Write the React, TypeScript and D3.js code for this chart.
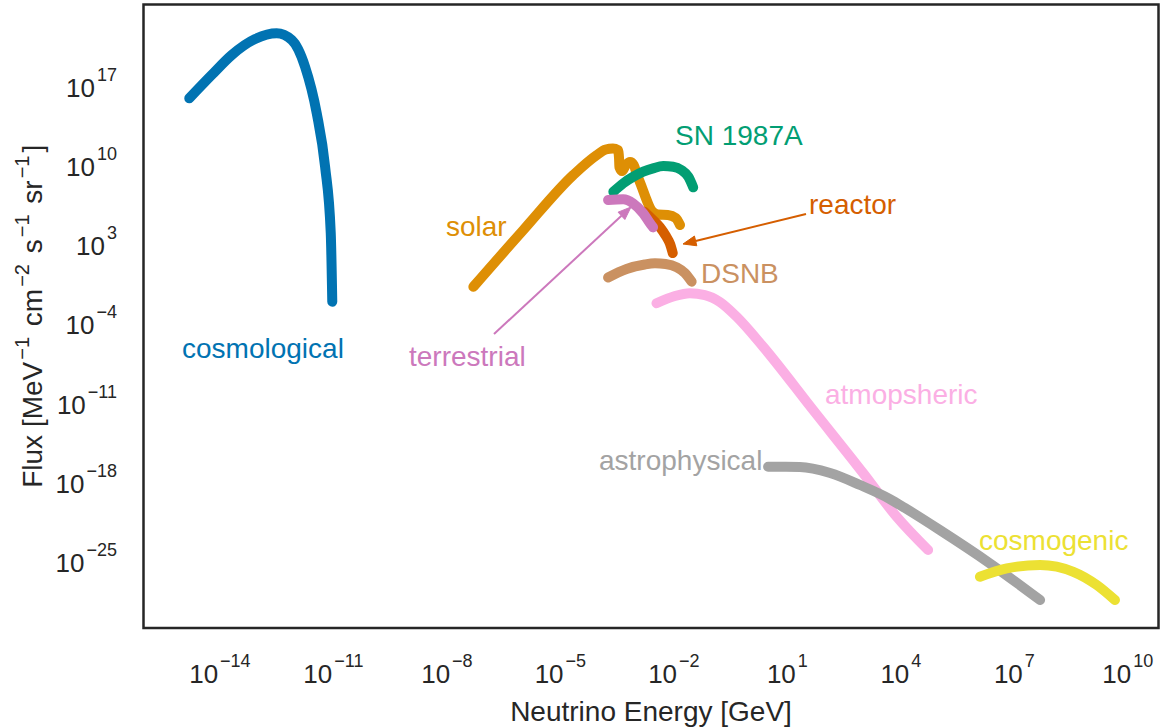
import React from "react";
import * as d3 from "d3";

// ---- canvas / plot frame ----
const W = 1161;
const H = 728;
const frame = { left: 143.5, top: 4.5, right: 1158.5, bottom: 628 };
const FONT = "'Liberation Sans', Arial, Helvetica, sans-serif";
const INK = "#262626";

// axis extents (GeV, MeV^-1 cm^-2 s^-1 sr^-1)
const xLimits = [9.55e-17, 6.46e10];
const yLimits = [1.7e-31, 2.19e24];

const xTickValues = [1e-14, 1e-11, 1e-8, 1e-5, 1e-2, 1e1, 1e4, 1e7, 1e10];
const xTickExponents = ["\u221214", "\u221211", "\u22128", "\u22125", "\u22122", "1", "4", "7", "10"];
const yTickValues = [1e17, 1e10, 1e3, 1e-4, 1e-11, 1e-18, 1e-25];
const yTickExponents = ["17", "10", "3", "\u22124", "\u221211", "\u221218", "\u221225"];

// ---- neutrino flux spectra: energy [GeV], flux ----
const cosmologicalE = [1.55e-15, 6.03e-15, 2.04e-14, 8.51e-14, 3.16e-13, 7.94e-13, 1.78e-12, 3.63e-12, 6.03e-12, 8.51e-12, 9.33e-12];
const cosmologicalF = [1.12e16, 1.26e18, 7.41e19, 1.95e21, 6.17e21, 1.58e21, 6.92e18, 5.25e14, 1.0e10, 1.29e4, 1.17e-2];

const solarE = [5.01e-8, 1.05e-6, 2.19e-5, 9.12e-5, 1.58e-4, 2.45e-4, 3.31e-4, 3.55e-4, 3.63e-4, 4.27e-4, 5.37e-4, 6.92e-4, 8.71e-4, 1.05e-3, 1.45e-3, 1.95e-3, 2.63e-3, 3.8e-3, 6.92e-3, 1.12e-2, 1.45e-2];
const solarF = [0.245, 2.57e4, 1.86e9, 1.07e11, 3.31e11, 4.07e11, 3.02e11, 5.89e10, 9.33e9, 4.17e9, 1.41e10, 2.63e10, 1.41e10, 2.24e9, 1.32e8, 9.33e6, 1.2e6, 5.89e5, 5.37e5, 2.95e5, 7.08e4];

const sn1987aE = [2.51e-4, 4.57e-4, 8.51e-4, 1.55e-3, 2.82e-3, 5.25e-3, 9.55e-3, 1.58e-2, 2.4e-2, 3.24e-2];
const sn1987aF = [6.17e7, 3.39e8, 1.32e9, 3.63e9, 7.24e9, 1.15e10, 1.0e10, 5.13e9, 1.32e9, 1.51e8];

const reactorE = [1.7e-3, 2.82e-3, 4.27e-3, 6.17e-3, 7.94e-3, 9.33e-3];
const reactorF = [9.77e5, 1.95e5, 4.68e4, 7.41e3, 1.48e3, 234];

const terrestrialE = [1.82e-4, 4.57e-4, 8.32e-4, 1.55e-3, 2.34e-3, 2.82e-3];
const terrestrialF = [1.15e7, 1.32e7, 5.89e6, 7.59e5, 1.0e5, 4.37e4];

const dsnbE = [1.82e-4, 5.62e-4, 1.7e-3, 3.16e-3, 6.03e-3, 1.2e-2, 1.95e-2, 2.95e-2];
const dsnbF = [1.62, 9.12, 22.9, 28.8, 25.1, 12.6, 4.07, 0.692];

const atmosphericE = [3.47e-3, 1.07e-2, 2.63e-2, 6.61e-2, 0.166, 0.457, 2.29, 47.9, 1.02e3, 7.76e3, 5.25e4];
const atmosphericF = [8.51e-3, 3.72e-2, 6.46e-2, 4.57e-2, 1.1e-2, 5.5e-4, 1.23e-6, 3.16e-12, 7.94e-18, 1.15e-21, 1.32e-24];

const astrophysicalE = [3.09, 21.4, 135, 832, 5.13e3, 1.29e4, 1.07e5, 2.24e6, 4.79e7];
const astrophysicalF = [3.02e-17, 2.88e-17, 8.51e-18, 7.41e-19, 4.27e-20, 6.76e-21, 7.76e-23, 8.91e-26, 5.01e-29];

const cosmogenicE = [1.23e6, 6.31e6, 4.79e7, 3.63e8, 1.51e9, 4.57e9];
const cosmogenicF = [5.75e-27, 3.16e-26, 6.31e-26, 1.58e-26, 1.07e-27, 5.01e-29];

// colorblind-friendly palette
const palette = ["#0173b2", "#de8f05", "#029e73", "#d55e00", "#cc78bc", "#ca9161", "#fbafe4", "#a3a3a3", "#ece133"];

const series = [
  { name: "cosmological", E: cosmologicalE, F: cosmologicalF, color: palette[0] },
  { name: "solar", E: solarE, F: solarF, color: palette[1] },
  { name: "SN 1987A", E: sn1987aE, F: sn1987aF, color: palette[2] },
  { name: "reactor", E: reactorE, F: reactorF, color: palette[3] },
  { name: "terrestrial", E: terrestrialE, F: terrestrialF, color: palette[4] },
  { name: "atmopsheric", E: atmosphericE, F: atmosphericF, color: palette[6] },
  { name: "DSNB", E: dsnbE, F: dsnbF, color: palette[5] },
  { name: "astrophysical", E: astrophysicalE, F: astrophysicalF, color: palette[7] },
  { name: "cosmogenic", E: cosmogenicE, F: cosmogenicF, color: palette[8] },
];

// text annotations (pixel anchors, left-aligned baseline)
const labels = [
  { text: "cosmological", x: 182, y: 358, color: palette[0] },
  { text: "solar", x: 446, y: 236, color: palette[1] },
  { text: "SN 1987A", x: 675, y: 145, color: palette[2] },
  { text: "reactor", x: 809, y: 214, color: palette[3] },
  { text: "DSNB", x: 701, y: 283, color: palette[5] },
  { text: "terrestrial", x: 409, y: 366, color: palette[4] },
  { text: "atmopsheric", x: 825, y: 404, color: palette[6] },
  { text: "astrophysical", x: 599, y: 470, color: palette[7] },
  { text: "cosmogenic", x: 979, y: 550, color: palette[8] },
];

// annotation arrows: from text to curve
const arrows = [
  { x1: 806, y1: 214, x2: 683, y2: 244, color: palette[3] },
  { x1: 494, y1: 334, x2: 631, y2: 207, color: palette[4] },
];

const TICK_FS = 26;
const SUP_FS = 18;
const LABEL_FS = 28;
const LABEL_SUP_FS = 20;

function Arrow({ a }: { a: { x1: number; y1: number; x2: number; y2: number; color: string } }) {
  const ang = Math.atan2(a.y2 - a.y1, a.x2 - a.x1);
  const len = 13;
  const half = 5;
  const bx = a.x2 - len * Math.cos(ang);
  const by = a.y2 - len * Math.sin(ang);
  const px = -Math.sin(ang) * half;
  const py = Math.cos(ang) * half;
  const pts = `${a.x2},${a.y2} ${bx + px},${by + py} ${bx - px},${by - py}`;
  return (
    <g>
      <line x1={a.x1} y1={a.y1} x2={bx} y2={by} stroke={a.color} strokeWidth={2} />
      <polygon points={pts} fill={a.color} stroke={a.color} strokeWidth={1} strokeLinejoin="miter" />
    </g>
  );
}

export default function App() {
  const x = d3.scaleLog().domain(xLimits).range([frame.left, frame.right]);
  const y = d3.scaleLog().domain(yLimits).range([frame.bottom, frame.top]);

  const line = d3
    .line<[number, number]>()
    .x((d) => x(d[0]))
    .y((d) => y(d[1]))
    .curve(d3.curveMonotoneX);

  const midY = (frame.top + frame.bottom) / 2;
  const midX = (frame.left + frame.right) / 2;

  return (
    <svg
      width={W}
      height={H}
      viewBox={`0 0 ${W} ${H}`}
      style={{ position: "absolute", left: 0, top: 0, background: "#fff" }}
      fontFamily={FONT}
    >
      <rect x={0} y={0} width={W} height={H} fill="#fff" />

      {/* spectra */}
      <g fill="none" strokeWidth={10} strokeLinecap="round" strokeLinejoin="round">
        {series.map((s) => (
          <path
            key={s.name}
            d={line(s.E.map((e, i) => [e, s.F[i]] as [number, number])) || ""}
            stroke={s.color}
          />
        ))}
      </g>

      {/* annotations */}
      {arrows.map((a, i) => (
        <Arrow key={i} a={a} />
      ))}
      {labels.map((l) => (
        <text key={l.text} x={l.x} y={l.y} fill={l.color} fontSize={LABEL_FS}>
          {l.text}
        </text>
      ))}

      {/* frame */}
      <rect
        x={frame.left}
        y={frame.top}
        width={frame.right - frame.left}
        height={frame.bottom - frame.top}
        fill="none"
        stroke={INK}
        strokeWidth={2.5}
      />

      {/* x tick labels */}
      {xTickValues.map((v, i) => (
        <text key={"xt" + i} x={x(v)} y={683} fill={INK} fontSize={TICK_FS} textAnchor="middle">
          <tspan>10</tspan>
          <tspan dx={2} dy={-16} fontSize={SUP_FS}>
            {xTickExponents[i]}
          </tspan>
        </text>
      ))}

      {/* y tick labels */}
      {yTickValues.map((v, i) => (
        <text key={"yt" + i} x={117} y={y(v) + 9.3} fill={INK} fontSize={TICK_FS} textAnchor="end">
          <tspan>10</tspan>
          <tspan dx={2} dy={-16} fontSize={SUP_FS}>
            {yTickExponents[i]}
          </tspan>
        </text>
      ))}

      {/* axis titles */}
      <text x={midX} y={721} fill={INK} fontSize={LABEL_FS} textAnchor="middle">
        Neutrino Energy [GeV]
      </text>
      <text
        transform={`translate(42,${midY}) rotate(-90)`}
        fill={INK}
        fontSize={LABEL_FS}
        textAnchor="middle"
        xmlSpace="preserve"
      >
        <tspan>Flux [MeV</tspan>
        <tspan dx={2} dy={-13} fontSize={LABEL_SUP_FS}>{"\u22121"}</tspan>
        <tspan dx={3} dy={13}>{" cm"}</tspan>
        <tspan dx={2} dy={-13} fontSize={LABEL_SUP_FS}>{"\u22122"}</tspan>
        <tspan dx={3} dy={13}>{" s"}</tspan>
        <tspan dx={2} dy={-13} fontSize={LABEL_SUP_FS}>{"\u22121"}</tspan>
        <tspan dx={3} dy={13}>{" sr"}</tspan>
        <tspan dx={2} dy={-13} fontSize={LABEL_SUP_FS}>{"\u22121"}</tspan>
        <tspan dx={3} dy={13}>]</tspan>
      </text>
    </svg>
  );
}
